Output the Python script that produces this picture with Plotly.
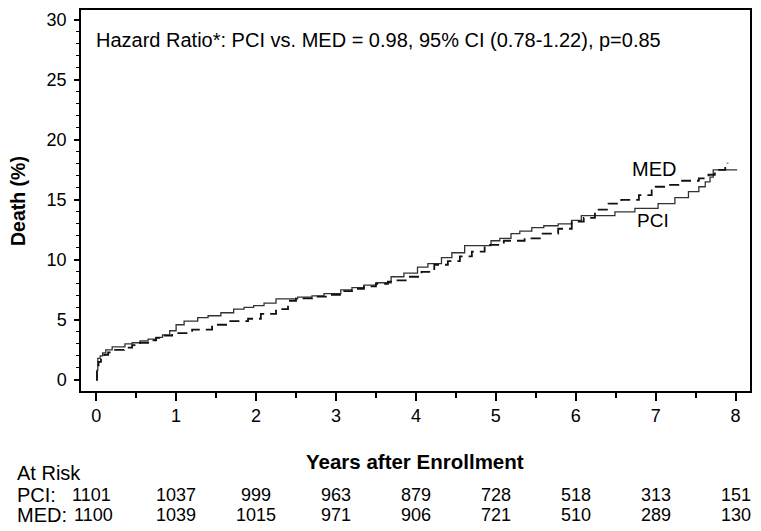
import plotly.graph_objects as go

# ---- data ----
pci_t = [0, 0.01, 0.02, 0.05, 0.08, 0.12, 0.2, 0.36, 0.45, 0.55, 0.65, 0.75, 0.83, 0.92, 1.0, 1.1,
         1.27, 1.4, 1.56, 1.72, 1.85, 1.97, 2.1, 2.25, 2.52, 2.7, 2.85, 3.06, 3.2, 3.35, 3.5, 3.69,
         3.85, 4.02, 4.15, 4.32, 4.45, 4.61, 4.94, 5.05, 5.19, 5.3, 5.45, 5.6, 5.78, 5.95, 6.07,
         6.49, 6.74, 7.03, 7.24, 7.41, 7.54, 7.62, 7.68, 7.72, 8.02]
pci_v = [0, 0.8, 1.8, 2.0, 2.25, 2.5, 2.75, 3.0, 3.1, 3.25, 3.4, 3.55, 3.75, 4.1, 4.6, 4.9,
         5.2, 5.35, 5.6, 5.9, 6.05, 6.2, 6.4, 6.75, 6.9, 7.0, 7.2, 7.5, 7.7, 7.9, 8.1, 8.6,
         8.9, 9.4, 9.7, 10.2, 10.6, 11.2, 11.6, 11.8, 12.2, 12.4, 12.7, 12.85, 13.0, 13.3, 13.7,
         14.0, 14.3, 14.7, 15.2, 15.7, 16.1, 16.5, 16.9, 17.5, 17.5]

med_t = [0, 0.01, 0.03, 0.06, 0.1, 0.15, 0.2, 0.35, 0.45, 0.55, 0.65, 0.75, 0.83, 0.95, 1.2,
         1.45, 1.66, 1.9, 2.06, 2.25, 2.4, 2.5, 2.7, 2.9, 3.05, 3.2, 3.35, 3.5, 3.65, 3.77, 3.9,
         4.07, 4.23, 4.4, 4.55, 4.7, 4.86, 5.1, 5.36, 5.55, 5.78, 5.95, 6.1, 6.24, 6.41, 6.57,
         6.79, 6.95, 7.0, 7.12, 7.33, 7.54, 7.66, 7.74, 7.87, 7.9]
med_v = [0, 0.7, 1.5, 1.9, 2.1, 2.3, 2.5, 2.7, 2.9, 3.1, 3.3, 3.5, 3.7, 3.9, 4.2,
         4.6, 4.9, 5.1, 5.5, 5.9, 6.6, 6.8, 6.95, 7.1, 7.4, 7.6, 7.8, 8.0, 8.2, 8.3, 8.6,
         9.0, 9.6, 9.9, 10.3, 10.7, 11.25, 11.6, 11.8, 12.2, 12.6, 13.2, 13.5, 14.2, 14.7, 15.0,
         15.4, 15.8, 16.1, 16.25, 16.6, 16.8, 17.1, 17.5, 17.9, 18.1]

years = [0, 1, 2, 3, 4, 5, 6, 7, 8]
pci_risk = [1101, 1037, 999, 963, 879, 728, 518, 313, 151]
med_risk = [1100, 1039, 1015, 971, 906, 721, 510, 289, 130]

hr_text = "Hazard Ratio*: PCI vs. MED = 0.98, 95% CI (0.78-1.22), p=0.85"

FONT = "Arial, Liberation Sans, sans-serif"
OFF = 8  # page body margin offset

# plot area in page px: x 81..750, y 10..391
PL, PR, PT, PB = 81, 750, 10, 391
W, H = 761 - OFF, 531 - OFF


def px(p):
    return (p - PL) / float(PR - PL)


def py(p):
    return (PB - p) / float(PB - PT)


fig = go.Figure()
fig.add_trace(go.Scatter(x=pci_t, y=pci_v, mode="lines", line_shape="hv",
                         line=dict(color="#333333", width=1.3), showlegend=False))
fig.add_trace(go.Scatter(x=med_t, y=med_v, mode="lines", line_shape="hv",
                         line=dict(color="#111111", width=1.8, dash="10px,6px"), showlegend=False))

txt20 = dict(size=20, family=FONT, color="#000")
num18 = dict(size=18, family=FONT, color="#000")
ann = []
ann.append(dict(xref="paper", yref="paper", x=px(94), y=py(40), text=hr_text, showarrow=False,
                xanchor="left", yanchor="middle", font=txt20))
ann.append(dict(xref="paper", yref="paper", x=px(653.5), y=py(168.5), text="MED", showarrow=False,
                xanchor="center", yanchor="middle", font=txt20))
ann.append(dict(xref="paper", yref="paper", x=px(653), y=py(220), text="PCI", showarrow=False,
                xanchor="center", yanchor="middle", font=dict(size=19, family=FONT, color="#000")))

# axis titles
ann.append(dict(xref="paper", yref="paper", x=px(415), y=py(461), text="<b>Years after Enrollment</b>",
                showarrow=False, xanchor="center", yanchor="middle", font=dict(size=20.5, family=FONT, color="#000")))
ann.append(dict(xref="paper", yref="paper", x=px(18), y=py(201), text="<b>Death (%)</b>", textangle=-90,
                showarrow=False, xanchor="center", yanchor="middle", font=dict(size=19.5, family=FONT, color="#000")))

# at risk table
ann.append(dict(xref="paper", yref="paper", x=px(15), y=py(472.5), text="At Risk",
                showarrow=False, xanchor="left", yanchor="middle", font=txt20))
ann.append(dict(xref="paper", yref="paper", x=px(15), y=py(494.5), text="PCI:",
                showarrow=False, xanchor="left", yanchor="middle", font=txt20))
ann.append(dict(xref="paper", yref="paper", x=px(15), y=py(515.5), text="MED:",
                showarrow=False, xanchor="left", yanchor="middle", font=txt20))
for yr, a, b in zip(years, pci_risk, med_risk):
    for val, row, first_x in ((a, 494.5, 91), (b, 515.5, 93)):
        if yr == years[0]:
            ann.append(dict(xref="paper", yref="paper", x=px(first_x), y=py(row), text=str(val), showarrow=False,
                            xanchor="center", yanchor="middle", font=num18))
        else:
            ann.append(dict(xref="x", yref="paper", x=yr, y=py(row), text=str(val), showarrow=False,
                            xanchor="center", yanchor="middle", font=num18))

fig.update_layout(
    width=W, height=H,
    margin=dict(l=PL - OFF, r=W - (PR - OFF), t=PT - OFF, b=H - (PB - OFF), autoexpand=False),
    paper_bgcolor="white", plot_bgcolor="white",
    font=dict(family=FONT, size=18, color="#000"),
    annotations=ann,
    xaxis=dict(range=[-0.19, 8.18], tickmode="array", tickvals=years, ticktext=[str(v) for v in years],
               ticks="outside", ticklen=8, tickwidth=1.5, tickcolor="#000",
               minor=dict(dtick=0.5, tick0=0, ticks="outside", ticklen=5, tickwidth=1.5, tickcolor="#000"),
               showgrid=False, zeroline=False, showline=True, linecolor="#000", linewidth=1.5, mirror=True,
               tickfont=dict(size=18, family=FONT), automargin=False),
    yaxis=dict(range=[-0.92, 30.83], tickmode="linear", tick0=0, dtick=5,
               ticks="outside", ticklen=5, tickwidth=1.5, tickcolor="#000",
               minor=dict(dtick=1, tick0=0, ticks="outside", ticklen=3, tickwidth=1.2, tickcolor="#000"),
               showgrid=False, zeroline=False, showline=True, linecolor="#000", linewidth=1.5, mirror=True,
               tickfont=dict(size=18, family=FONT), ticklabelstandoff=4, automargin=False),
)

fig.write_html("out.html")
